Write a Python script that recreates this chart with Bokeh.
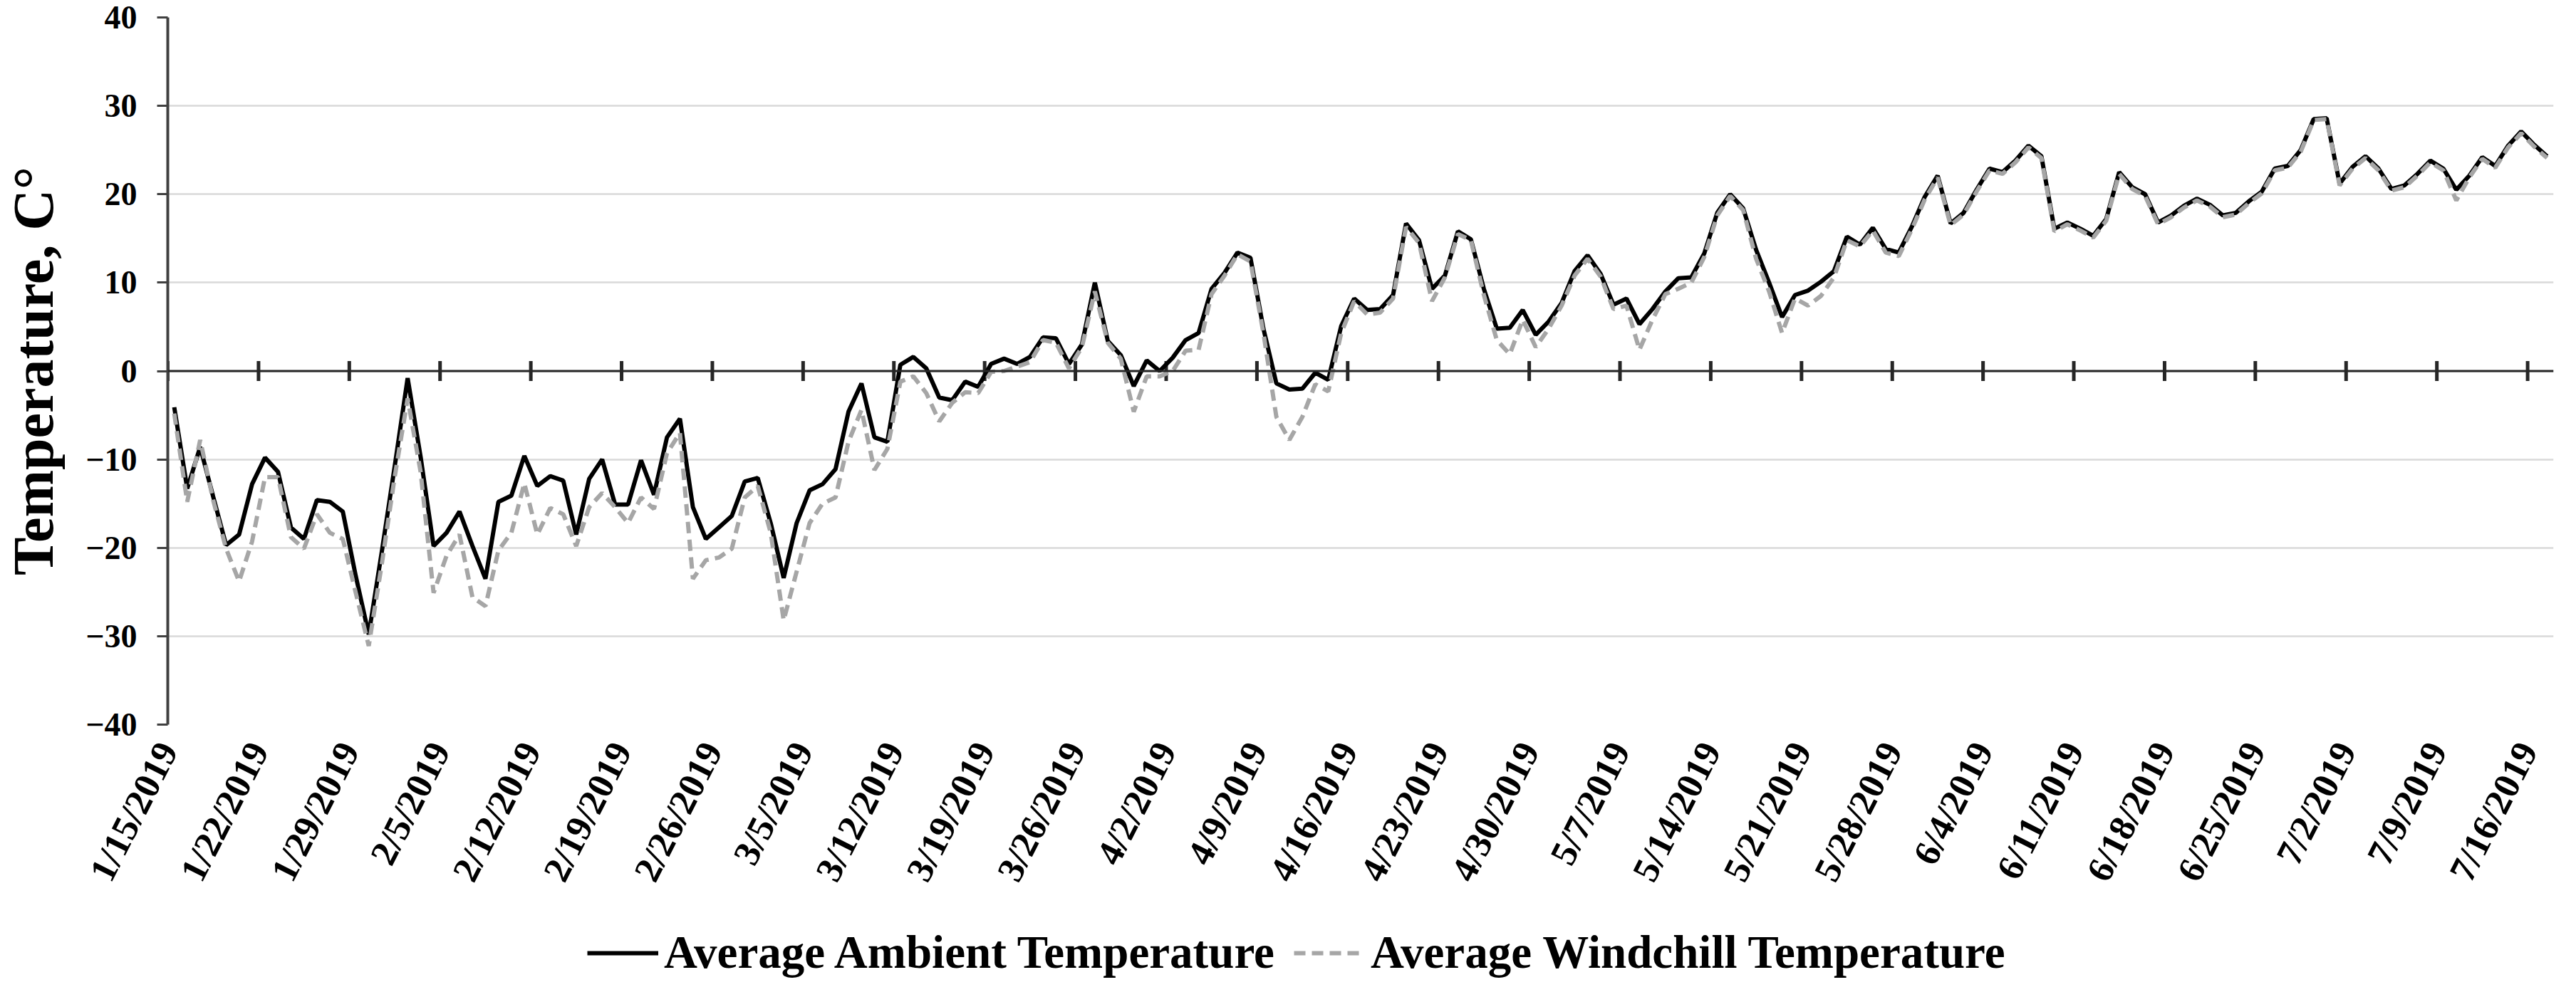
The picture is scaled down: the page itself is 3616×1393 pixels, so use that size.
import pandas as pd
from bokeh.plotting import figure
from bokeh.layouts import column
from bokeh.models import Range1d, FixedTicker, Legend, LegendItem, Span
from bokeh.embed import file_html
from bokeh.resources import INLINE

# ---------------- data (daily, 1/15/2019 .. 7/17/2019) ----------------
dates = pd.date_range("2019-01-15", periods=184, freq="D")

ambient = [
    -4.1, -13.3, -8.6, -14.2, -19.7, -18.5, -12.8, -9.8, -11.4, -17.7,
    -19.0, -14.6, -14.8, -15.9, -23.2, -29.8, -20.5, -10.8, -0.8, -9.7,
    -19.8, -18.3, -15.9, -19.8, -23.5, -14.8, -14.1, -9.6, -13.0, -11.9,
    -12.4, -18.5, -12.2, -10.0, -15.1, -15.1, -10.1, -14.0, -7.5, -5.4,
    -15.4, -19.0, -17.7, -16.4, -12.5, -12.1, -17.2, -23.4, -17.2, -13.5,
    -12.8, -11.1, -4.6, -1.4, -7.5, -8.0, 0.7, 1.6, 0.3, -3.0,
    -3.3, -1.2, -1.8, 0.8, 1.4, 0.8, 1.6, 3.8, 3.7, 0.8,
    3.0, 10.0, 3.4, 1.8, -1.7, 1.2, 0.0, 1.5, 3.5, 4.3,
    9.3, 11.1, 13.4, 12.8, 4.8, -1.4, -2.1, -2.0, -0.2, -1.0,
    5.1, 8.2, 6.9, 7.0, 8.6, 16.7, 14.8, 9.3, 10.8, 15.8,
    14.9, 9.3, 4.8, 4.9, 6.9, 4.1, 5.6, 7.7, 11.3, 13.1,
    11.0, 7.5, 8.2, 5.3, 7.0, 9.0, 10.5, 10.6, 13.3, 17.9,
    20.0, 18.4, 13.7, 10.0, 6.1, 8.6, 9.1, 10.1, 11.3, 15.2,
    14.3, 16.2, 13.8, 13.4, 16.3, 19.7, 22.1, 16.7, 17.9, 20.5,
    22.9, 22.5, 23.8, 25.5, 24.3, 16.1, 16.8, 16.1, 15.3, 17.2,
    22.5, 20.8, 20.0, 16.8, 17.6, 18.7, 19.5, 18.8, 17.6, 17.9,
    19.2, 20.3, 22.9, 23.2, 25.0, 28.5, 28.6, 21.2, 23.1, 24.3,
    22.9, 20.6, 21.0, 22.3, 23.8, 22.9, 20.5, 22.1, 24.2, 23.2,
    25.5, 27.1, 25.6, 24.3,
]

windchill = [
    -4.8, -14.8, -7.8, -14.6, -20.1, -23.8, -19.3, -12.0, -12.0, -18.8,
    -20.1, -16.2, -18.3, -19.0, -25.1, -31.1, -21.9, -12.0, -3.1, -11.4,
    -25.1, -20.9, -18.5, -25.6, -26.6, -20.3, -18.3, -12.7, -18.5, -15.5,
    -16.2, -19.8, -15.4, -13.8, -15.4, -17.2, -14.3, -15.6, -9.3, -7.0,
    -23.5, -21.4, -21.1, -20.1, -14.3, -13.0, -18.3, -28.2, -22.7, -17.2,
    -15.0, -14.3, -8.0, -4.4, -11.2, -8.8, -1.2, -0.6, -2.5, -5.7,
    -3.6, -2.4, -2.5, -0.1, 0.0, 0.5, 1.0, 3.5, 3.2, 0.3,
    2.7, 9.0, 3.2, 1.4, -4.6, -0.6, -0.6, 0.0, 2.3, 2.4,
    8.7, 10.8, 13.2, 12.4, 4.3, -5.2, -7.8, -5.2, -1.5, -2.3,
    4.3, 7.9, 6.4, 6.6, 8.2, 16.3, 14.5, 7.9, 10.6, 15.5,
    14.8, 8.6, 3.5, 1.9, 5.8, 2.7, 4.8, 7.4, 10.8, 12.7,
    10.7, 7.0, 7.4, 2.4, 5.8, 8.7, 9.3, 10.0, 12.9, 17.6,
    19.8, 18.2, 12.7, 9.0, 4.3, 8.2, 7.4, 8.5, 10.6, 14.8,
    14.1, 15.9, 13.4, 13.0, 16.0, 19.4, 21.9, 16.5, 17.7, 20.3,
    22.7, 22.3, 23.6, 25.3, 24.1, 15.8, 16.6, 15.9, 15.1, 17.0,
    22.3, 20.6, 19.8, 16.6, 17.4, 18.5, 19.3, 18.6, 17.4, 17.7,
    19.0, 20.1, 22.7, 23.0, 24.8, 28.4, 28.5, 21.0, 22.9, 24.1,
    22.7, 20.4, 20.8, 22.1, 23.6, 22.7, 19.3, 21.9, 24.0, 23.0,
    25.3, 26.9, 25.4, 24.1,
]

tick_labels = [
    "1/15/2019", "1/22/2019", "1/29/2019", "2/5/2019", "2/12/2019",
    "2/19/2019", "2/26/2019", "3/5/2019", "3/12/2019", "3/19/2019",
    "3/26/2019", "4/2/2019", "4/9/2019", "4/16/2019", "4/23/2019",
    "4/30/2019", "5/7/2019", "5/14/2019", "5/21/2019", "5/28/2019",
    "6/4/2019", "6/11/2019", "6/18/2019", "6/25/2019", "7/2/2019",
    "7/9/2019", "7/16/2019",
]
y_ticks = [-40, -30, -20, -10, 0, 10, 20, 30, 40]
series_names = ["Average Ambient Temperature", "Average Windchill Temperature"]

# category positions: each day occupies one slot, point at slot centre
n_days = len(dates)
x_pos = [i + 0.5 for i in range(n_days)]
x_ticks = [7 * k for k in range(len(tick_labels))]

FONT = "Liberation Serif"
AMB_STYLE = dict(line_color="black", line_width=6)
WCH_STYLE = dict(line_color="#a6a6a6", line_width=6, line_dash="16 9")

# ---------------- main chart ----------------
p = figure(
    width=3600, height=1277,
    output_backend="svg", toolbar_location=None,
    x_range=Range1d(0, n_days), y_range=Range1d(-40, 40),
    min_border_left=230, min_border_right=16,
    min_border_top=24, min_border_bottom=260,
)
p.outline_line_color = None
p.background_fill_color = "white"

ya = p.yaxis[0]
ya.ticker = FixedTicker(ticks=y_ticks)
ya.minor_tick_line_color = None
ya.major_tick_in = 0
ya.major_tick_out = 15
ya.major_tick_line_width = 3
ya.major_tick_line_color = "#404040"
ya.axis_line_width = 4
ya.axis_line_color = "#404040"
ya.major_label_text_font = FONT
ya.major_label_text_font_style = "bold"
ya.major_label_text_font_size = "46px"
ya.major_label_text_color = "black"
ya.major_label_standoff = 28
ya.axis_label = "Temperature, C°"
ya.axis_label_text_font = FONT
ya.axis_label_text_font_style = "bold"
ya.axis_label_text_font_size = "80px"
ya.axis_label_text_color = "black"
ya.axis_label_standoff = 26

xa = p.xaxis[0]
xa.ticker = FixedTicker(ticks=x_ticks)
xa.major_label_overrides = {t: lab for t, lab in zip(x_ticks, tick_labels)}
xa.major_label_orientation = 1.1
xa.major_label_text_font = FONT
xa.major_label_text_font_style = "bold"
xa.major_label_text_font_size = "52px"
xa.major_label_text_color = "black"
xa.major_label_standoff = 22
xa.axis_line_color = None
xa.major_tick_line_color = None
xa.minor_tick_line_color = None

p.xgrid.grid_line_color = None
p.ygrid.ticker = FixedTicker(ticks=y_ticks)
p.ygrid.grid_line_color = "#d9d9d9"
p.ygrid.grid_line_width = 2.5

# horizontal axis line at zero with crossing tick marks
p.add_layout(Span(location=0, dimension="width", line_color="#262626",
                  line_width=3))
p.rect(x=x_ticks, y=[0] * len(x_ticks), width=5, height=28,
       width_units="screen", height_units="screen",
       fill_color="#262626", line_color=None)

p.line(x_pos, ambient, **AMB_STYLE)
p.line(x_pos, windchill, **WCH_STYLE)

# ---------------- legend strip ----------------
lg = figure(
    width=3600, height=100,
    output_backend="svg", toolbar_location=None,
    x_range=Range1d(0, 1), y_range=Range1d(0, 1),
    x_axis_location=None, y_axis_location=None,
    min_border=0,
)
lg.outline_line_color = None
lg.xgrid.grid_line_color = None
lg.ygrid.grid_line_color = None
# legend keys only (a single undefined point draws nothing in the strip)
k1 = lg.line([float("nan")], [float("nan")], **AMB_STYLE)
k2 = lg.line([float("nan")], [float("nan")], **WCH_STYLE)

legend = Legend(
    items=[
        LegendItem(label=series_names[0], renderers=[k1]),
        LegendItem(label=series_names[1], renderers=[k2]),
    ],
    orientation="horizontal",
    location=(589, 2),
)
legend.label_text_font = FONT
legend.label_text_font_style = "bold"
legend.label_text_font_size = "65px"
legend.label_text_color = "black"
legend.glyph_width = 100
legend.glyph_height = 60
legend.label_standoff = 8
legend.spacing = 27
legend.padding = 0
legend.margin = 0
legend.border_line_alpha = 0
legend.background_fill_alpha = 0
lg.add_layout(legend, "center")

layout = column(p, lg, spacing=0)
open("out.html", "w").write(file_html(layout, INLINE))
